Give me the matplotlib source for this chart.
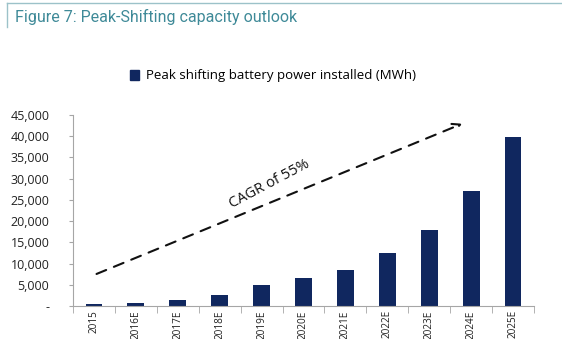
import numpy as np
import matplotlib
matplotlib.use('Agg')
import matplotlib.pyplot as plt
from matplotlib.patches import Patch
from matplotlib.ticker import FuncFormatter

years = ['2015', '2016E', '2017E', '2018E', '2019E', '2020E',
         '2021E', '2022E', '2023E', '2024E', '2025E']
power_mwh = [400, 600, 1400, 2500, 4900, 6500, 8400, 12500, 17900, 27100, 39700]
legend_label = 'Peak shifting battery power installed (MWh)'
title = 'Figure 7: Peak-Shifting capacity outlook'
cagr_text = 'CAGR of 55%'

plt.rcParams['font.family'] = ['Open Sans', 'DejaVu Sans']
navy = '#10275f'
grey = '#a6a6a6'

fig = plt.figure(figsize=(5.62, 3.39), dpi=100)
ax = fig.add_axes([73 / 562, 1 - 306 / 339, (534 - 73) / 562, (306 - 115) / 339])

x = np.arange(len(years))
ax.bar(x, power_mwh, width=0.4, color=navy)
ax.set_xlim(-0.5, len(years) - 0.5)
ax.set_ylim(0, 45000)
ax.set_yticks(np.arange(0, 45001, 5000))
ax.yaxis.set_major_formatter(FuncFormatter(lambda v, p: '-' if v == 0 else f'{int(v):,}'))
ax.tick_params(axis='y', labelsize=9, length=3, color=grey, pad=14)
for lab in ax.get_yticklabels():
    lab.set_color('#222222')

# year labels kept small enough to fit under the axis
ax.set_xticks(x)
ax.set_xticklabels(years, rotation=90, fontsize=7.2, color='#222222', va='top')
ax.tick_params(axis='x', length=0, pad=3)
ax.set_xticks(np.arange(-0.5, len(years)), minor=True)
ax.tick_params(axis='x', which='minor', length=5, color=grey)

for s in ['top', 'right']:
    ax.spines[s].set_visible(False)
ax.spines['left'].set_color(grey)
ax.spines['bottom'].set_color(grey)

# dashed CAGR arrow
ax.annotate('', xy=(8.85, 43200), xytext=(0.0, 7300),
            arrowprops=dict(arrowstyle='->', linestyle=(0, (5, 4)), color='#111111',
                            lw=1.5, mutation_scale=14))
ax.text(4.2, 28700, cagr_text, rotation=28, fontsize=10.5, ha='center', va='center',
        color='#111111')

fig.legend(handles=[Patch(color=navy, label=legend_label)], loc='center left',
           bbox_to_anchor=(118 / 562, 1 - 76 / 339), frameon=False, fontsize=9.5,
           handlelength=0.7, handleheight=0.7, handletextpad=0.5)

# figure caption and frame lines
fig.text(15 / 562, 1 - 17 / 339, title, fontsize=11.5, color='#3f8a98',
         family='Roboto', va='center')
fig.add_artist(plt.Line2D([7 / 562, 1], [1 - 3 / 339] * 2, color='#9cc2c9', lw=1))
fig.add_artist(plt.Line2D([7 / 562] * 2, [1 - 3 / 339, 1 - 27 / 339], color='#9cc2c9', lw=1))

fig.savefig('out.png', dpi=100)
